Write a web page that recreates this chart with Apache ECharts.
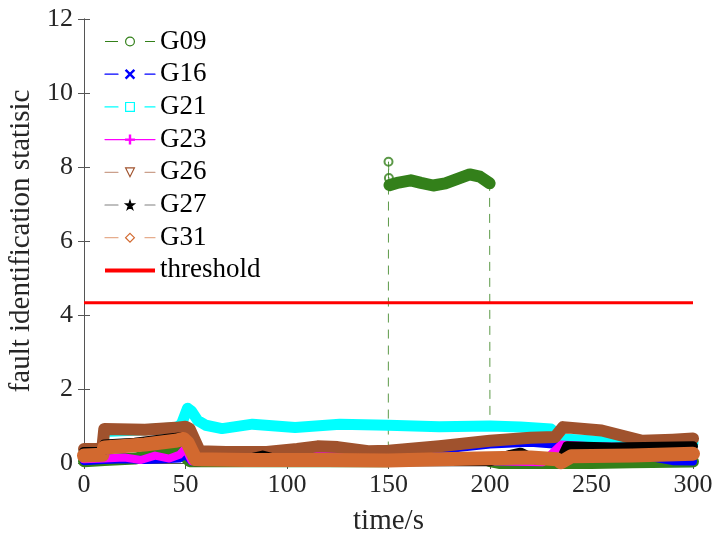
<!DOCTYPE html>
<html>
<head>
<meta charset="utf-8">
<script src="https://cdn.jsdelivr.net/npm/echarts@6/dist/echarts.min.js"></script>
<style>
  html, body { margin: 0; padding: 0; background: #fff; }
  #chart { width: 716px; height: 539px; }
</style>
</head>
<body>
<div id="chart"></div>
<script>
// ---- data: time (s) and statistic value per generator ----
const xTicks = [0, 50, 100, 150, 200, 250, 300];
const yTicks = [0, 2, 4, 6, 8, 10, 12];

// G09: normal part, fault window (150-200 s) and recovery
const timeG09Before = [0, 10, 25, 40, 47, 52, 100, 149.9];
const valueG09Before = [0.05, 0.08, 0.12, 0.28, 0.33, 0.05, 0.05, 0.05];
const timeG09Jump = [150, 150.2];
const valueG09Jump = [8.14, 7.70];
const timeG09Fault = [150.5, 155, 161, 166, 172, 178, 184, 190, 195, 199.8];
const valueG09Fault = [7.51, 7.58, 7.64, 7.57, 7.50, 7.56, 7.68, 7.80, 7.74, 7.56];
const timeG09After = [200, 205, 250, 270, 300];
const valueG09After = [0.05, 0.0, 0.0, 0.02, 0.04];

const timeG16 = [0, 10, 20, 30, 40, 47, 50, 53, 70, 100, 115, 130, 150, 175, 200, 220, 231, 245, 270, 290, 300];
const valueG16 = [0.05, 0.08, 0.10, 0.08, 0.10, 0.12, 0.22, 0.05, 0.05, 0.10, 0.20, 0.22, 0.25, 0.35, 0.50, 0.55, 0.50, 0.42, 0.25, 0.05, 0.04];

const timeG21 = [0, 9, 10, 30, 45, 48, 51, 53, 56, 60, 68, 83, 104, 126, 150, 175, 200, 215, 230, 236, 250, 262, 280, 300];
const valueG21 = [0.30, 0.30, 0.85, 0.90, 0.95, 1.05, 1.48, 1.40, 1.15, 1.02, 0.93, 1.05, 0.96, 1.05, 1.02, 0.98, 1.00, 0.97, 0.92, 0.65, 0.60, 0.55, 0.50, 0.55];

const timeG23 = [0, 10, 20, 28, 35, 42, 47, 50, 53, 100, 110, 118, 125, 150, 200, 226, 235, 250, 300];
const valueG23 = [0.10, 0.12, 0.15, 0.08, 0.20, 0.12, 0.22, 0.40, 0.05, 0.05, 0.25, 0.30, 0.20, 0.05, 0.05, 0.02, 0.50, 0.45, 0.40];

const timeG26 = [0, 9, 10, 30, 45, 50, 52, 57, 70, 90, 105, 115, 125, 140, 150, 175, 200, 220, 232, 236, 255, 275, 290, 300];
const valueG26 = [0.38, 0.38, 0.92, 0.90, 0.95, 0.98, 0.93, 0.32, 0.30, 0.30, 0.38, 0.45, 0.43, 0.32, 0.33, 0.45, 0.60, 0.68, 0.70, 0.97, 0.88, 0.60, 0.63, 0.66];

const timeG27 = [0, 9, 10, 25, 40, 48, 50, 55, 80, 88, 95, 130, 200, 210, 215, 222, 235, 238, 260, 300];
const valueG27 = [0.30, 0.30, 0.50, 0.55, 0.65, 0.70, 0.60, 0.05, 0.10, 0.20, 0.10, 0.05, 0.05, 0.22, 0.28, 0.10, 0.10, 0.45, 0.42, 0.45];

const timeG31 = [0, 9, 10, 30, 45, 49, 51, 55, 80, 120, 150, 175, 200, 220, 233, 235, 240, 270, 300];
const valueG31 = [0.20, 0.22, 0.42, 0.50, 0.60, 0.65, 0.55, 0.10, 0.08, 0.08, 0.07, 0.10, 0.13, 0.15, 0.10, 0.02, 0.18, 0.20, 0.25];

const thresholdValue = 4.33;
const thresholdTime = [0, 300];

// ---- helpers ----
const pairs = (t, v) => t.map((x, i) => [x, v[i]]);

const FONT = 'Liberation Serif';
const C09 = '#33801a', C16 = '#0000ff', C21 = '#00ffff', C23 = '#ff00ff',
      C26 = '#a0522d', C27 = '#000000', C31 = '#d2692f';

const SYM_X = 'path://M0,1L1,0L5,4L9,0L10,1L6,5L10,9L9,10L5,6L1,10L0,9L4,5Z';
const SYM_PLUS = 'path://M4.3,0L5.7,0L5.7,4.3L10,4.3L10,5.7L5.7,5.7L5.7,10L4.3,10L4.3,5.7L0,5.7L0,4.3L4.3,4.3Z';
const SYM_TRI = 'path://M0,0L10,0L5,9Z';
const SYM_STAR = 'path://M5,0L6.2,3.6L10,3.6L6.9,5.8L8.1,9.5L5,7.2L1.9,9.5L3.1,5.8L0,3.6L3.8,3.6Z';

const g09All = pairs(timeG09Before, valueG09Before)
  .concat(pairs(timeG09Jump, valueG09Jump))
  .concat(pairs(timeG09Fault, valueG09Fault))
  .concat(pairs(timeG09After, valueG09After));
const g09Band = pairs(timeG09Before, valueG09Before)
  .concat([[null, null]])
  .concat(pairs(timeG09Fault, valueG09Fault))
  .concat([[null, null]])
  .concat(pairs(timeG09After, valueG09After));

function band(name, color, width, symbol, data) {
  return {
    name, type: 'line', data, symbol, showSymbol: false, connectNulls: false,
    lineStyle: { color, width, cap: 'round', join: 'round' },
    itemStyle: { color }, emphasis: { disabled: true }, silent: true
  };
}

const dashed = [13, 27];
function legendItem(name, color, symbolFill, symbolBorder, lineType, lineOpacity) {
  return {
    name,
    itemStyle: { color: symbolFill, borderColor: symbolBorder, borderWidth: 1.2, opacity: 1 },
    lineStyle: { color, width: 1.2, type: lineType, opacity: lineOpacity }
  };
}

const chart = echarts.init(document.getElementById('chart'), null, { renderer: 'canvas' });

const axisCommon = {
  axisLine: { show: true, lineStyle: { color: '#555', width: 1 } },
  axisTick: { show: true, inside: true, length: 6, lineStyle: { color: '#555' } },
  splitLine: { show: false }
};

chart.setOption({
  animation: false,
  backgroundColor: '#fff',
  grid: { left: 84, right: 23, top: 19, bottom: 76, containLabel: false, outerBoundsMode: 'none' },
  xAxis: [
    Object.assign({
      type: 'value', min: xTicks[0], max: xTicks[xTicks.length - 1], interval: xTicks[1] - xTicks[0],
      position: 'bottom',
      name: 'time/s', nameLocation: 'middle', nameGap: 44,
      nameTextStyle: { fontFamily: FONT, fontSize: 29, color: '#262626' },
      axisLabel: { fontFamily: FONT, fontSize: 26, color: '#262626', margin: 9 }
    }, axisCommon),
    Object.assign({
      type: 'value', min: xTicks[0], max: xTicks[xTicks.length - 1], interval: xTicks[1] - xTicks[0],
      position: 'top', axisLabel: { show: false }
    }, axisCommon)
  ],
  yAxis: [
    Object.assign({
      type: 'value', min: yTicks[0], max: yTicks[yTicks.length - 1], interval: yTicks[1] - yTicks[0],
      position: 'left',
      name: 'fault identification statisic', nameLocation: 'middle', nameGap: 42,
      nameTextStyle: { fontFamily: FONT, fontSize: 29, color: '#262626' },
      axisLabel: { fontFamily: FONT, fontSize: 26, color: '#262626', margin: 11 }
    }, axisCommon),
    Object.assign({
      type: 'value', min: yTicks[0], max: yTicks[yTicks.length - 1], interval: yTicks[1] - yTicks[0],
      position: 'right', axisLabel: { show: false }
    }, axisCommon)
  ],
  legend: {
    orient: 'vertical', left: 103, top: 28, padding: 0,
    itemWidth: 50, itemHeight: 11, itemGap: 5.7,
    backgroundColor: 'transparent', borderWidth: 0,
    selectedMode: false,
    textStyle: { fontFamily: FONT, fontSize: 27, color: '#000', lineHeight: 27 },
    data: [
      legendItem('G09', C09, '#fff', C09, dashed, 1),
      legendItem('G16', C16, C16, C16, dashed, 1),
      legendItem('G21', C21, '#fff', C21, dashed, 1),
      legendItem('G23', C23, C23, C23, 'solid', 1),
      legendItem('G26', C26, '#fff', C26, dashed, 0.55),
      legendItem('G27', C27, C27, C27, dashed, 0.5),
      legendItem('G31', C31, '#fff', C31, dashed, 0.55),
      { name: 'threshold', itemStyle: { opacity: 0 }, lineStyle: { color: '#ff0000', width: 4, type: 'solid', opacity: 1 } }
    ]
  },
  series: [
    // G09: thin dashed trace with the dense marker band drawn over the sampled stretches
    {
      name: 'G09', type: 'line', data: g09All, symbol: 'circle', showSymbol: false,
      lineStyle: { color: C09, width: 1, type: [9, 7], opacity: 0.8 },
      itemStyle: { color: C09 }, emphasis: { disabled: true }, silent: true
    },
    band('G09 markers', C09, 12, 'circle', g09Band),
    {
      name: 'G09 onset', type: 'scatter', data: pairs(timeG09Jump, valueG09Jump),
      symbol: 'emptyCircle', symbolSize: 8,
      itemStyle: { color: C09, borderWidth: 1 }, silent: true
    },
    band('G16', C16, 8, SYM_X, pairs(timeG16, valueG16)),
    band('G21', C21, 11, 'rect', pairs(timeG21, valueG21)),
    band('G23', C23, 8, SYM_PLUS, pairs(timeG23, valueG23)),
    band('G26', C26, 12, SYM_TRI, pairs(timeG26, valueG26)),
    band('G27', C27, 10, SYM_STAR, pairs(timeG27, valueG27)),
    band('G31', C31, 14, 'diamond', pairs(timeG31, valueG31)),
    {
      name: 'threshold', type: 'line', symbol: 'none',
      data: thresholdTime.map(t => [t, thresholdValue]),
      lineStyle: { color: '#ff0000', width: 3 }, itemStyle: { color: '#ff0000' },
      emphasis: { disabled: true }, silent: true
    }
  ]
});
</script>
</body>
</html>
